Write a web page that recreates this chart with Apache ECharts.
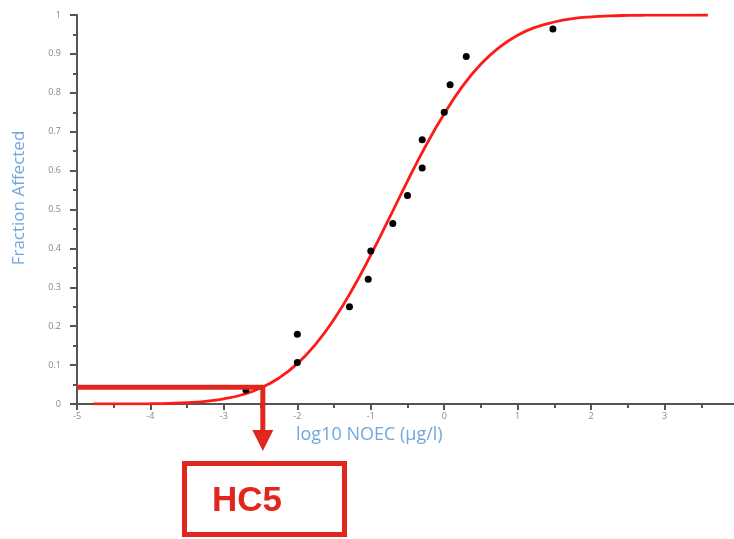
<!DOCTYPE html>
<html>
<head>
<meta charset="utf-8">
<script src="https://cdn.jsdelivr.net/npm/echarts@6/dist/echarts.min.js"></script>
<style>
html,body{margin:0;padding:0;background:#fff;}
#chart{width:734px;height:539px;}
</style>
</head>
<body>
<div id="chart"></div>
<script>
// Fitted species sensitivity curve
var curveX = [-4.78, -4.5, -4.25, -4.0, -3.75, -3.5, -3.25, -3.0, -2.75, -2.5, -2.25, -2.0, -1.75, -1.5, -1.25, -1.0, -0.75, -0.5, -0.25, 0.0, 0.25, 0.5, 0.75, 1.0, 1.25, 1.5, 1.75, 2.0, 2.25, 2.5, 2.75, 3.0, 3.3, 3.59];
var curveY = [0.0001, 0.0001, 0.0003, 0.0007, 0.0016, 0.0034, 0.0069, 0.0132, 0.0238, 0.0409, 0.0668, 0.1038, 0.154, 0.218, 0.295, 0.383, 0.477, 0.573, 0.664, 0.746, 0.817, 0.874, 0.917, 0.948, 0.969, 0.982, 0.9905, 0.9952, 0.9977, 0.9989, 0.9995, 0.9998, 0.9999, 1.0];
// Observed species points
var pointX = [-2.70, -2.0, -2.0, -1.29, -1.035, -1.0, -0.70, -0.50, -0.30, -0.30, 0.0, 0.08, 0.30, 1.48];
var pointY = [0.036, 0.107, 0.179, 0.25, 0.321, 0.393, 0.464, 0.536, 0.607, 0.679, 0.75, 0.821, 0.893, 0.964];
// HC5 annotation
var hc5X = -2.47;
var hc5Y = 0.043;
var arrowBottomY = -0.075;
var arrowHeadY = -0.094;
// Axis texts
var xTitle = 'log10 NOEC (\u00b5g/l)';
var yTitle = 'Fraction Affected';
var hc5Label = 'HC5';
var xTickLabels = ['-5', '-4', '-3', '-2', '-1', '0', '1', '2', '3'];

var curveData = curveX.map(function (x, i) { return [x, curveY[i]]; });
var pointData = pointX.map(function (x, i) { return [x, pointY[i]]; });

var red = '#e1261d';
var chart = echarts.init(document.getElementById('chart'), null, {renderer: 'canvas'});
chart.setOption({
  animation: false,
  backgroundColor: '#fff',
  grid: {left: 77, right: -4, top: 15, bottom: 135, containLabel: false, outerBoundsMode: 'none'},
  xAxis: {
    type: 'value', min: -5, max: 4, interval: 1,
    axisLine: {show: true, onZero: false, lineStyle: {color: '#555', width: 2}},
    axisTick: {show: true, length: 6, lineStyle: {color: '#555', width: 2}},
    minorTick: {show: true, splitNumber: 2, length: 4, lineStyle: {color: '#555', width: 2}},
    splitLine: {show: false},
    axisLabel: {color: '#888', fontSize: 9, fontFamily: 'Open Sans', margin: 8,
      formatter: function (v) {
        var s = String(Math.round(v));
        return (Math.abs(v - Math.round(v)) < 1e-9 && xTickLabels.indexOf(s) >= 0) ? s : '';
      }}
  },
  yAxis: {
    type: 'value', min: 0, max: 1, interval: 0.1,
    axisLine: {show: true, onZero: false, lineStyle: {color: '#555', width: 2}},
    axisTick: {show: true, length: 7, lineStyle: {color: '#555', width: 2}},
    minorTick: {show: true, splitNumber: 2, length: 4, lineStyle: {color: '#555', width: 2}},
    splitLine: {show: false},
    axisLabel: {color: '#888', fontSize: 9, fontFamily: 'Open Sans', margin: 16,
      formatter: function (v) { return String(Math.round(v * 10) / 10); }}
  },
  series: [
    {
      type: 'line', data: curveData, smooth: true, symbol: 'none',
      lineStyle: {color: '#ff1a1a', width: 2.8}, z: 2
    },
    {
      type: 'scatter', data: pointData, symbol: 'circle', symbolSize: 7,
      itemStyle: {color: '#000', opacity: 1}, z: 3
    },
    {
      type: 'line', data: [[-5, hc5Y], [hc5X, hc5Y]], symbol: 'none',
      lineStyle: {color: red, width: 5, cap: 'butt'}, z: 4, clip: false
    },
    {
      type: 'line', data: [[hc5X, hc5Y + 0.006], [hc5X, arrowBottomY]], symbol: 'none',
      lineStyle: {color: red, width: 5, cap: 'butt'}, z: 4, clip: false
    },
    {
      type: 'scatter', data: [[hc5X, arrowHeadY]], symbol: 'triangle', symbolRotate: 180,
      symbolSize: [21, 21], itemStyle: {color: red, opacity: 1}, z: 4, clip: false, silent: true
    }
  ],
  graphic: [
    {
      type: 'text', left: 296, top: 426,
      style: {text: xTitle, fill: '#6fa8dc', font: '18px "Open Sans"'}
    },
    {
      type: 'text', x: 19, y: 198, rotation: Math.PI / 2,
      style: {text: yTitle, fill: '#6fa8dc', font: '17px "Open Sans"', align: 'center', verticalAlign: 'middle'}
    },
    {
      type: 'rect', shape: {x: 184.5, y: 463.5, width: 160, height: 71},
      style: {fill: 'none', stroke: red, lineWidth: 5}
    },
    {
      type: 'text', x: 212, y: 501,
      style: {text: hc5Label, fill: red, font: 'bold 35px "Liberation Sans"', align: 'left', verticalAlign: 'middle'}
    }
  ]
});
</script>
</body>
</html>
